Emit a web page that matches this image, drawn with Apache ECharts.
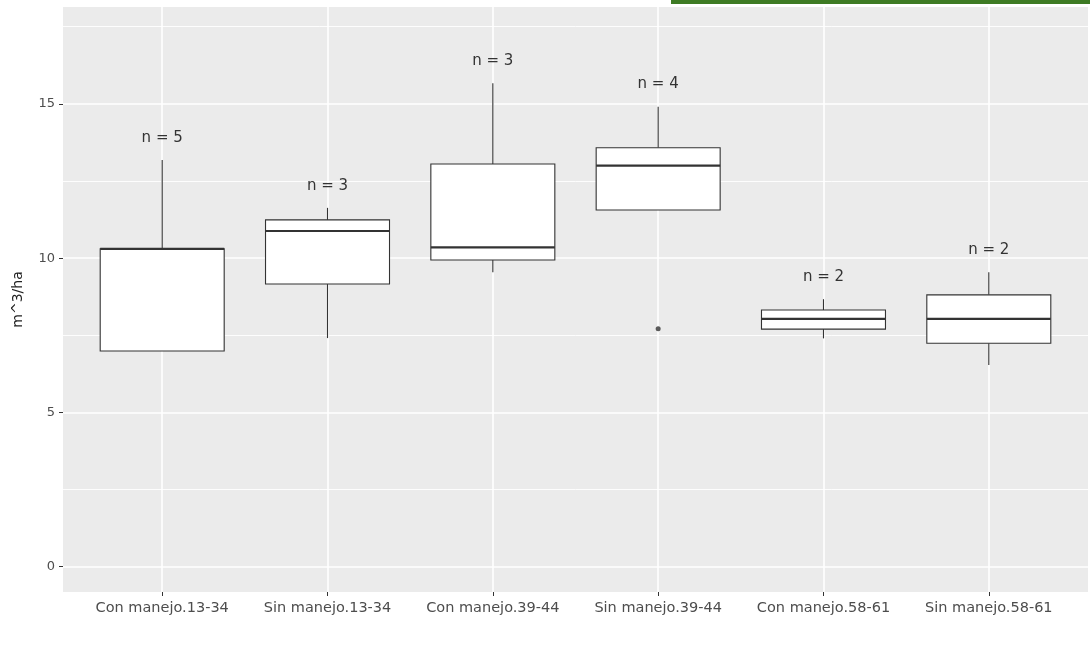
<!DOCTYPE html>
<html>
<head>
<meta charset="utf-8">
<script src="https://cdn.jsdelivr.net/npm/echarts@6/dist/echarts.min.js"></script>
<style>html,body{margin:0;padding:0;background:#fff;}#c{width:1090px;height:649px;}</style>
</head>
<body>
<div id="c"></div>
<script>
const categories = ["Con manejo.13-34","Sin manejo.13-34","Con manejo.39-44","Sin manejo.39-44","Con manejo.58-61","Sin manejo.58-61"];
const lowWhisker  = [6.99, 7.41, 9.54, 11.56, 7.40, 6.54];
const q1          = [6.99, 9.16, 9.94, 11.56, 7.70, 7.24];
const median      = [10.30, 10.88, 10.35, 13.00, 8.03, 8.03];
const q3          = [10.30, 11.24, 13.05, 13.58, 8.32, 8.81];
const highWhisker = [13.18, 11.63, 15.67, 14.91, 8.67, 9.54];
const nCounts     = [5, 3, 3, 4, 2, 2];
const outlierCat  = [4];
const outlierVal  = [7.71];
const yTicks      = [0, 5, 10, 15];
const yMinor      = [2.5, 7.5, 12.5, 17.5];

const xPos = categories.map((c, i) => i + 1);
const boxData = categories.map((c, i) => [xPos[i], lowWhisker[i], q1[i], median[i], q3[i], highWhisker[i]]);
const labelData = categories.map((c, i) => [xPos[i], highWhisker[i] + 0.72, nCounts[i]]);
const outlierData = outlierCat.map((x, i) => [x, outlierVal[i]]);

const chart = echarts.init(document.getElementById('c'), null, {renderer: 'canvas'});
const lineCol = '#333333';
chart.setOption({
  animation: false,
  backgroundColor: '#ffffff',
  graphic: [{type: 'rect', shape: {x: 671, y: 0, width: 419, height: 4}, style: {fill: '#3d7a23'}, z: 100}],
  grid: {left: 63, right: 2, top: 7, bottom: 57, show: true, backgroundColor: '#EBEBEB', borderWidth: 0},
  xAxis: {
    type: 'value', min: 0.4, max: 6.6,
    axisLine: {show: false, onZero: false},
    axisTick: {show: true, length: 4, customValues: xPos, lineStyle: {color: lineCol, width: 1}},
    axisLabel: {customValues: xPos, formatter: v => categories[Math.round(v) - 1] || '', color: '#4d4d4d', fontSize: 14.5, fontFamily: 'DejaVu Sans', margin: 9},
    splitLine: {show: true, lineStyle: {color: '#ffffff', width: 1.6}}
  },
  yAxis: {
    type: 'value', min: -0.82, max: 18.14,
    name: 'm^3/ha', nameLocation: 'middle', nameRotate: 90, nameGap: 38,
    nameTextStyle: {color: '#222', fontSize: 14, fontFamily: 'DejaVu Sans'},
    axisLine: {show: false, onZero: false},
    axisTick: {show: true, length: 4, customValues: yTicks, lineStyle: {color: lineCol, width: 1}},
    axisLabel: {customValues: yTicks, color: '#4d4d4d', fontSize: 13, fontFamily: 'DejaVu Sans', margin: 8},
    splitLine: {show: true, lineStyle: {color: '#ffffff', width: 1.6}}
  },
  series: [
    {
      type: 'line', data: [], z: 1, silent: true,
      markLine: {silent: true, z: 1, symbol: 'none', label: {show: false},
        lineStyle: {color: '#ffffff', width: 0.9, type: 'solid'},
        data: yMinor.map(v => ({yAxis: v}))}
    },
    {
      type: 'custom', z: 3,
      data: boxData,
      encode: {x: 0, y: [1, 2, 3, 4, 5]},
      renderItem: function (params, api) {
        const x = api.value(0);
        const w = api.size([0.75, 0])[0];
        const pLow = api.coord([x, api.value(1)]);
        const pQ1 = api.coord([x, api.value(2)]);
        const pMed = api.coord([x, api.value(3)]);
        const pQ3 = api.coord([x, api.value(4)]);
        const pHigh = api.coord([x, api.value(5)]);
        const cx = pMed[0];
        return {
          type: 'group',
          children: [
            {type: 'line', shape: {x1: cx, y1: pHigh[1], x2: cx, y2: pQ3[1]}, style: {stroke: lineCol, lineWidth: 1.1}},
            {type: 'line', shape: {x1: cx, y1: pQ1[1], x2: cx, y2: pLow[1]}, style: {stroke: lineCol, lineWidth: 1.1}},
            {type: 'rect', shape: {x: cx - w / 2, y: pQ3[1], width: w, height: pQ1[1] - pQ3[1]}, style: {fill: '#ffffff', stroke: lineCol, lineWidth: 1.1}},
            {type: 'line', shape: {x1: cx - w / 2, y1: pMed[1], x2: cx + w / 2, y2: pMed[1]}, style: {stroke: lineCol, lineWidth: 2.2}}
          ]
        };
      }
    },
    {
      type: 'scatter', z: 4, data: outlierData, symbol: 'circle', symbolSize: 5,
      itemStyle: {color: lineCol}
    },
    {
      type: 'custom', z: 5,
      data: labelData,
      encode: {x: 0, y: 1},
      renderItem: function (params, api) {
        const p = api.coord([api.value(0), api.value(1)]);
        return {
          type: 'text',
          style: {text: 'n = ' + api.value(2), x: p[0], y: p[1], align: 'center', verticalAlign: 'middle',
            fill: '#333', font: '15px "DejaVu Sans"'}
        };
      }
    }
  ]
});
</script>
</body>
</html>
